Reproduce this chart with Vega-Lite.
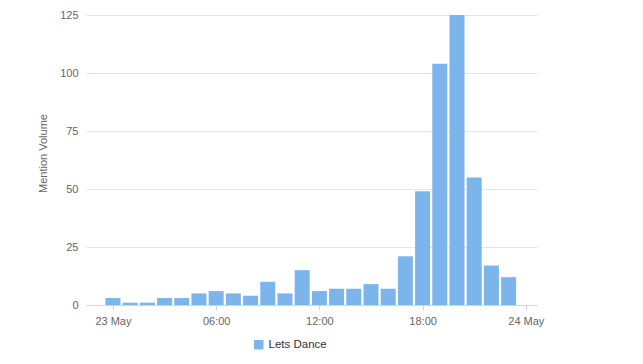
{
  "$schema": "https://vega.github.io/schema/vega-lite/v6.json",
  "width": 451,
  "height": 290,
  "autosize": {"type": "none"},
  "padding": {"left": 86, "top": 15, "right": 106, "bottom": 59},
  "background": "white",
  "config": {
    "font": "Liberation Sans",
    "view": {"stroke": null}
  },
  "data": {
    "values": [
      {"time": "2017-05-23T00:00:00Z", "volume": 3, "series": "Lets Dance"},
      {"time": "2017-05-23T01:00:00Z", "volume": 1, "series": "Lets Dance"},
      {"time": "2017-05-23T02:00:00Z", "volume": 1, "series": "Lets Dance"},
      {"time": "2017-05-23T03:00:00Z", "volume": 3, "series": "Lets Dance"},
      {"time": "2017-05-23T04:00:00Z", "volume": 3, "series": "Lets Dance"},
      {"time": "2017-05-23T05:00:00Z", "volume": 5, "series": "Lets Dance"},
      {"time": "2017-05-23T06:00:00Z", "volume": 6, "series": "Lets Dance"},
      {"time": "2017-05-23T07:00:00Z", "volume": 5, "series": "Lets Dance"},
      {"time": "2017-05-23T08:00:00Z", "volume": 4, "series": "Lets Dance"},
      {"time": "2017-05-23T09:00:00Z", "volume": 10, "series": "Lets Dance"},
      {"time": "2017-05-23T10:00:00Z", "volume": 5, "series": "Lets Dance"},
      {"time": "2017-05-23T11:00:00Z", "volume": 15, "series": "Lets Dance"},
      {"time": "2017-05-23T12:00:00Z", "volume": 6, "series": "Lets Dance"},
      {"time": "2017-05-23T13:00:00Z", "volume": 7, "series": "Lets Dance"},
      {"time": "2017-05-23T14:00:00Z", "volume": 7, "series": "Lets Dance"},
      {"time": "2017-05-23T15:00:00Z", "volume": 9, "series": "Lets Dance"},
      {"time": "2017-05-23T16:00:00Z", "volume": 7, "series": "Lets Dance"},
      {"time": "2017-05-23T17:00:00Z", "volume": 21, "series": "Lets Dance"},
      {"time": "2017-05-23T18:00:00Z", "volume": 49, "series": "Lets Dance"},
      {"time": "2017-05-23T19:00:00Z", "volume": 104, "series": "Lets Dance"},
      {"time": "2017-05-23T20:00:00Z", "volume": 125, "series": "Lets Dance"},
      {"time": "2017-05-23T21:00:00Z", "volume": 55, "series": "Lets Dance"},
      {"time": "2017-05-23T22:00:00Z", "volume": 17, "series": "Lets Dance"},
      {"time": "2017-05-23T23:00:00Z", "volume": 12, "series": "Lets Dance"}
    ]
  },
  "mark": {"type": "bar", "width": 15},
  "encoding": {
    "x": {
      "field": "time",
      "type": "temporal",
      "scale": {
        "type": "utc",
        "padding": 0,
        "domain": [
          {"year": 2017, "month": 5, "date": 22, "hours": 22, "minutes": 26, "utc": true},
          {"year": 2017, "month": 5, "date": 24, "hours": 0, "minutes": 39, "utc": true}
        ]
      },
      "axis": {
        "title": null,
        "values": [
          {"year": 2017, "month": 5, "date": 23, "hours": 0, "utc": true},
          {"year": 2017, "month": 5, "date": 23, "hours": 6, "utc": true},
          {"year": 2017, "month": 5, "date": 23, "hours": 12, "utc": true},
          {"year": 2017, "month": 5, "date": 23, "hours": 18, "utc": true},
          {"year": 2017, "month": 5, "date": 24, "hours": 0, "utc": true}
        ],
        "labelExpr": "utchours(datum.value) == 0 ? utcFormat(datum.value, '%d %b') : utcFormat(datum.value, '%H:%M')",
        "grid": false,
        "domainColor": "#ccd6eb",
        "tickColor": "#ccd6eb",
        "tickSize": 5,
        "labelPadding": 5,
        "labelFontSize": 11,
        "labelColor": "#666666",
        "labelFlush": false,
        "labelOverlap": false
      }
    },
    "y": {
      "field": "volume",
      "type": "quantitative",
      "scale": {"domain": [0, 125], "nice": false},
      "axis": {
        "title": "Mention Volume",
        "titleFontWeight": "normal",
        "titleFontSize": 11,
        "titleColor": "#666666",
        "titleX": -43,
        "titleY": 138,
        "titleAlign": "center",
        "titleBaseline": "middle",
        "values": [0, 25, 50, 75, 100, 125],
        "domain": false,
        "ticks": false,
        "labelPadding": 8,
        "labelFontSize": 11,
        "labelColor": "#666666",
        "gridColor": "#e6e6e6"
      }
    },
    "color": {
      "field": "series",
      "type": "nominal",
      "scale": {"range": ["#7cb5ec"]},
      "legend": {
        "title": null,
        "orient": "none",
        "legendX": 167,
        "legendY": 324,
        "symbolType": "square",
        "symbolSize": 90,
        "symbolStrokeWidth": 0,
        "labelFontSize": 11.5,
        "labelColor": "#333333",
        "labelOffset": 4
      }
    }
  }
}
